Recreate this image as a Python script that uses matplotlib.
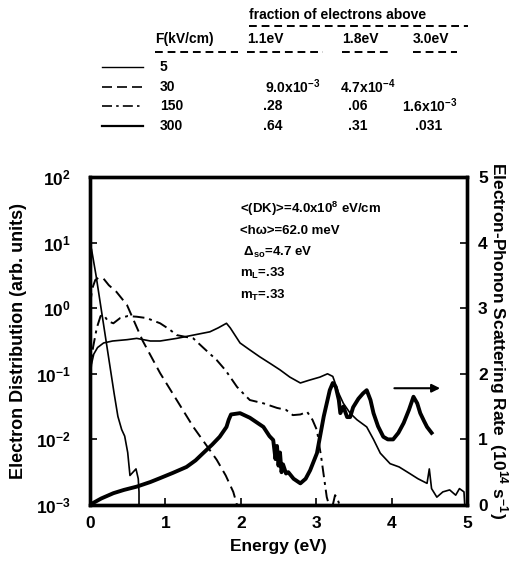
import numpy as np
import matplotlib
matplotlib.use("Agg")
import matplotlib.pyplot as plt
from matplotlib.lines import Line2D

plt.rcParams['font.family'] = ['Liberation Sans', 'DejaVu Sans']
plt.rcParams['font.weight'] = 'bold'
plt.rcParams['mathtext.fontset'] = 'custom'
plt.rcParams['mathtext.rm'] = 'Liberation Sans:bold'
plt.rcParams['mathtext.it'] = 'Liberation Sans:bold'
plt.rcParams['mathtext.bf'] = 'Liberation Sans:bold'
plt.rcParams['mathtext.default'] = 'regular'

# electron distributions (log10 of arb. units) vs energy (eV)
f5_energy = [0.0, 0.02, 0.08, 0.14, 0.2, 0.26, 0.32, 0.37, 0.42, 0.46, 0.5, 0.53, 0.57, 0.61, 0.64, 0.65, 0.65]
f5_log10 = [0.95, 0.9, 0.5, 0.05, -0.4, -0.85, -1.3, -1.65, -1.85, -1.95, -2.2, -2.55, -2.5, -2.45, -2.6, -2.8, -3.0]

f30_energy = [0.0, 0.03, 0.07, 0.12, 0.18, 0.25, 0.35, 0.49, 0.7, 0.93, 1.15, 1.37, 1.55, 1.68, 1.8, 1.9, 1.95]
f30_log10 = [0.05, 0.3, 0.43, 0.47, 0.45, 0.35, 0.25, 0.05, -0.5, -0.99, -1.4, -1.81, -2.1, -2.31, -2.55, -2.8, -3.0]

f150_energy = [0.0, 0.04, 0.09, 0.14, 0.18, 0.24, 0.31, 0.4, 0.5, 0.62, 0.75, 0.93, 1.05, 1.15, 1.37, 1.5, 1.68,
               1.8, 1.95, 2.05, 2.12, 2.3, 2.48, 2.6, 2.69, 2.79, 2.88, 2.95, 3.01, 3.07, 3.14, 3.17]
f150_log10 = [-1.0, -0.6, -0.3, -0.12, -0.1, -0.2, -0.23, -0.15, -0.12, -0.13, -0.15, -0.23, -0.32, -0.41, -0.46,
              -0.6, -0.79, -0.95, -1.2, -1.32, -1.4, -1.45, -1.52, -1.55, -1.63, -1.62, -1.58, -1.7, -1.86, -2.3, -2.88, -3.0]
f150b_energy = [3.22, 3.25, 3.28, 3.31]
f150b_log10 = [-3.0, -2.85, -2.9, -3.0]

f300_energy = [0.0, 0.02, 0.05, 0.1, 0.18, 0.3, 0.49, 0.62, 0.8, 0.93, 1.15, 1.37, 1.59, 1.7, 1.81, 1.86, 1.99,
               2.1, 2.25, 2.4, 2.52, 2.65, 2.79, 2.9, 3.05, 3.15, 3.22, 3.3, 3.36, 3.45, 3.54, 3.67, 3.76, 3.85,
               3.98, 4.1, 4.24, 4.35, 4.47, 4.5, 4.53, 4.6, 4.68, 4.77, 4.85, 4.9, 4.96, 4.97]
f300_log10 = [-1.1, -0.85, -0.7, -0.6, -0.53, -0.5, -0.48, -0.46, -0.5, -0.5, -0.46, -0.41, -0.36, -0.3, -0.23,
              -0.3, -0.53, -0.62, -0.74, -0.85, -0.94, -1.05, -1.14, -1.1, -1.05, -1.0, -1.04, -1.3, -1.45, -1.6,
              -1.7, -1.81, -2.0, -2.21, -2.37, -2.42, -2.52, -2.6, -2.67, -2.45, -2.75, -2.88, -2.8, -2.77, -2.85,
              -2.75, -2.8, -3.0]

# electron-phonon scattering rate (1e14 1/s) vs energy (eV)
rate_energy = [0.0, 0.04, 0.15, 0.31, 0.45, 0.62, 0.8, 0.93, 1.1, 1.28, 1.4, 1.5, 1.62, 1.72, 1.81, 1.84, 1.87,
               1.99, 2.12, 2.3, 2.38, 2.43, 2.46, 2.48, 2.5, 2.52, 2.54, 2.56, 2.6, 2.63, 2.7, 2.79, 2.86, 2.92,
               3.01, 3.1, 3.18, 3.22, 3.26, 3.3, 3.32, 3.36, 3.41, 3.45, 3.49, 3.56, 3.62, 3.67, 3.72, 3.76,
               3.82, 3.89, 3.95, 4.02, 4.09, 4.16, 4.23, 4.29, 4.34, 4.38, 4.43, 4.47, 4.53]
rate_values = [0.0, 0.03, 0.1, 0.18, 0.23, 0.28, 0.35, 0.41, 0.49, 0.58, 0.68, 0.79, 0.92, 1.04, 1.19, 1.3, 1.38,
               1.4, 1.33, 1.19, 1.05, 0.99, 0.7, 0.9, 0.6, 0.8, 0.5, 0.62, 0.48, 0.5, 0.4, 0.33, 0.4, 0.53,
               0.79, 1.35, 1.75, 1.86, 1.8, 1.6, 1.4, 1.5, 1.34, 1.34, 1.49, 1.62, 1.7, 1.75, 1.6, 1.4,
               1.2, 1.04, 1.0, 1.0, 1.1, 1.25, 1.45, 1.65, 1.55, 1.4, 1.28, 1.19, 1.1]

x_ticks = [0, 1, 2, 3, 4, 5]
y_exponents = [-3, -2, -1, 0, 1, 2]
rate_ticks = [0, 1, 2, 3, 4, 5]

# legend table
fields = ['5', '30', '150', '300']
frac_11 = ['', r'$9.0x10^{-3}$', '.28', '.64']
frac_18 = ['', r'$4.7x10^{-4}$', '.06', '.31']
frac_30 = ['', '', r'$1.6x10^{-3}$', '.031']

dash30 = (0, (6, 3))
dash150 = (0, (6, 2.5, 1.5, 2.5))

W, H = 515, 567
fig = plt.figure(figsize=(W / 100, H / 100), dpi=100)
ax = fig.add_axes([90 / W, 1 - 505 / H, 377 / W, 328 / H])

ax.plot(f5_energy, 10 ** np.array(f5_log10), color='black', lw=1.2)
ax.plot(f30_energy, 10 ** np.array(f30_log10), color='black', lw=1.4, linestyle=dash30)
ax.plot(f150_energy, 10 ** np.array(f150_log10), color='black', lw=1.4, linestyle=dash150)
ax.plot(f150b_energy, 10 ** np.array(f150b_log10), color='black', lw=1.4, linestyle=dash150)
ax.plot(f300_energy, 10 ** np.array(f300_log10), color='black', lw=1.2)

ax.set_yscale('log')
ax.set_xlim(0, 5)
ax.set_ylim(1e-3, 1e2)
ax.set_xticks(x_ticks)
ax.set_xticklabels([str(t) for t in x_ticks], fontsize=12.5, fontweight='bold')
ax.set_yticks([10.0 ** e for e in y_exponents])
ax.set_yticklabels([r'$10^{%d}$' % e for e in y_exponents], fontsize=12.5)
ax.minorticks_off()
ax.tick_params(axis='x', direction='in', length=5, width=1.2, pad=8)
ax.tick_params(axis='y', direction='in', length=5, width=1.2, pad=14)
ax.set_xlabel('Energy (eV)', fontsize=12.5, fontweight='bold', labelpad=6)
ax.set_ylabel('Electron Distribution (arb. units)', fontsize=13, fontweight='bold', labelpad=6)
for s in ax.spines.values():
    s.set_linewidth(2.4)

ax2 = ax.twinx()
ax2.plot(rate_energy, rate_values, color='black', lw=2.8)
ax2.set_ylim(0, 5)
ax2.set_yticks(rate_ticks)
ax2.set_yticklabels([str(t) for t in rate_ticks], fontsize=12.5, fontweight='bold')
ax2.tick_params(axis='y', direction='in', length=5, width=1.2, pad=8)
ax2.set_ylabel(r'Electron-Phonon Scattering Rate  ($10^{14}$ $s^{-1}$)', fontsize=12.5,
               fontweight='bold', rotation=-90, labelpad=16)
for s in ax2.spines.values():
    s.set_linewidth(2.4)
ax2.annotate('', xy=(4.68, 1.78), xytext=(4.0, 1.78),
             arrowprops=dict(arrowstyle='-|>', color='black', lw=1.5, mutation_scale=12))

# parameter notes
notes = [r'<(DK)>=4.0x10$^{8}$ eV/cm', '<hω>=62.0 meV', r' Δ$_{so}$=4.7 eV', r'm$_{L}$=.33', r'm$_{T}$=.33']
for i, t in enumerate(notes):
    fig.text(240 / W, 1 - (209 + 21.5 * i) / H, t, fontsize=9.5, fontweight='bold', va='center')


# table above the axes
def fx(px):
    return px / W


def fy(py):
    return 1 - py / H


fig.text(fx(249), fy(15), 'fraction of electrons above', fontsize=10, fontweight='bold', va='center')
fig.add_artist(Line2D([fx(249), fx(468)], [fy(26), fy(26)], color='black', lw=1.4, linestyle=(0, (4, 2.5))))
headers = [(155, 'F(kV/cm)', 238), (247, '1.1eV', 323), (342, '1.8eV', 392), (413, '3.0eV', 457)]
for x0, t, x1 in headers:
    fig.text(fx(x0), fy(39), t, fontsize=10, fontweight='bold', va='center')
    fig.add_artist(Line2D([fx(x0), fx(x1)], [fy(52), fy(52)], color='black', lw=1.4, linestyle=(0, (4, 2.5))))

row_y = [67, 87, 106, 126]
row_styles = [('-', 1.0), (dash30, 1.2), (dash150, 1.2), ('-', 1.6)]
for i, yy in enumerate(row_y):
    ls, lw = row_styles[i]
    fig.add_artist(Line2D([fx(102), fx(143)], [fy(yy), fy(yy)], color='black', lw=lw, linestyle=ls))
    fig.text(fx(160), fy(yy), fields[i], fontsize=10, fontweight='bold', va='center')
    fig.text(fx(265 if frac_11[i].startswith('$') else 263), fy(yy), frac_11[i], fontsize=10, fontweight='bold', va='center')
    fig.text(fx(340 if frac_18[i].startswith('$') else 348), fy(yy), frac_18[i], fontsize=10, fontweight='bold', va='center')
    fig.text(fx(402 if frac_30[i].startswith('$') else 415), fy(yy), frac_30[i], fontsize=10, fontweight='bold', va='center')

fig.savefig('out.png', dpi=100)
